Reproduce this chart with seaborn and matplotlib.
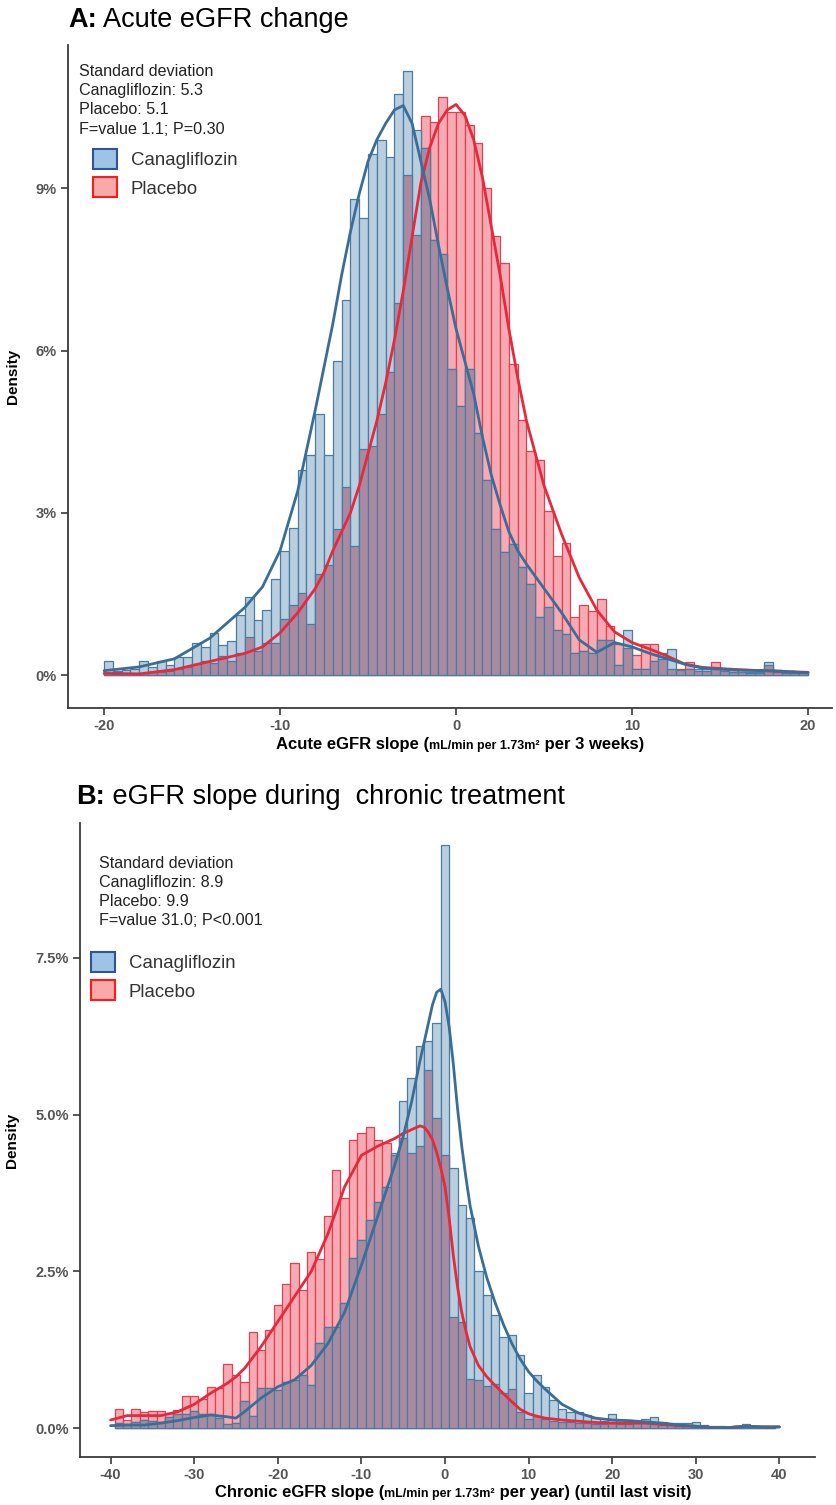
import numpy as np
import pandas as pd
import matplotlib
matplotlib.use("Agg")
import matplotlib.pyplot as plt
import seaborn as sns
from matplotlib.patches import Patch
from matplotlib.offsetbox import TextArea, HPacker, AnchoredOffsetbox
from matplotlib import font_manager as fm

# ---------------- Data ----------------
groups = ["Canagliflozin", "Placebo"]

# Panel A: acute eGFR change, 0.5-wide bins from -20 to 20 (density in %)
a_range = (-20, 20)
a_binwidth = 0.5
a_cana = [0.26, 0.08, 0.10, 0.12, 0.26, 0.15, 0.26, 0.18, 0.34, 0.34,
          0.60, 0.51, 0.77, 0.55, 0.62, 1.11, 1.45, 1.02, 1.20, 1.78,
          2.29, 2.71, 3.80, 4.06, 4.83, 4.06, 5.80, 6.93, 8.80, 8.45,
          9.64, 9.90, 9.58, 10.74, 11.16, 10.07, 9.75, 8.04, 7.79, 5.66,
          4.97, 5.66, 4.47, 3.60, 2.70, 2.27, 2.42, 2.00, 1.69, 1.08,
          1.26, 0.83, 0.76, 0.40, 0.45, 0.40, 0.65, 0.65, 0.18, 0.83,
          0.12, 0.12, 0.25, 0.40, 0.48, 0.09, 0.12, 0.12, 0.12, 0.12,
          0.12, 0.09, 0.06, 0.06, 0.06, 0.24, 0.09, 0.06, 0.06, 0.04]
a_plac = [0.04, 0.05, 0.04, 0.03, 0.03, 0.05, 0.06, 0.08, 0.12, 0.15,
          0.20, 0.25, 0.22, 0.35, 0.25, 0.40, 0.71, 0.45, 0.60, 0.59,
          1.03, 1.29, 1.52, 0.94, 1.87, 2.04, 2.70, 3.48, 2.38, 4.18,
          4.23, 4.83, 5.61, 6.87, 9.25, 8.14, 10.34, 10.22, 10.68, 10.42,
          10.42, 10.17, 9.84, 9.00, 8.11, 7.62, 5.75, 4.72, 4.15, 3.97,
          3.03, 2.20, 2.45, 1.08, 1.30, 1.19, 1.41, 0.90, 0.58, 0.50,
          0.37, 0.58, 0.58, 0.30, 0.12, 0.12, 0.24, 0.08, 0.08, 0.24,
          0.08, 0.06, 0.06, 0.04, 0.04, 0.19, 0.06, 0.04, 0.04, 0.03]
a_kde_x = [-20, -18, -16, -14, -12, -11, -10, -9,
           -8, -7.5, -7, -6.5, -6, -5.5, -5, -4.5, -4, -3.5,
           -3, -2.5, -2, -1.5, -1, -0.5, 0, 0.5, 1, 1.5,
           2, 2.5, 3, 3.5, 4, 5, 6, 7, 8, 9,
           10, 11, 12, 13, 14, 16, 18, 20]
a_kde_cana = [0.08, 0.15, 0.30, 0.68, 1.25, 1.63, 2.30, 3.40,
              4.90, 5.70, 6.50, 7.40, 8.20, 8.90, 9.50, 9.90, 10.20, 10.45,
              10.53, 10.20, 9.50, 8.80, 7.95, 7.15, 6.40, 5.80, 5.20, 4.40,
              3.70, 3.15, 2.65, 2.30, 2.05, 1.60, 1.15, 0.65, 0.42, 0.60,
              0.52, 0.40, 0.30, 0.20, 0.13, 0.09, 0.08, 0.04]
a_kde_plac = [0.03, 0.02, 0.10, 0.25, 0.40, 0.52, 0.78, 1.15,
              1.60, 1.90, 2.30, 2.65, 3.00, 3.50, 4.10, 4.70, 5.40, 6.20,
              7.10, 8.10, 9.10, 9.75, 10.20, 10.45, 10.55, 10.35, 9.90, 9.20,
              8.30, 7.40, 6.40, 5.50, 4.70, 3.50, 2.60, 1.80, 1.20, 0.80,
              0.60, 0.48, 0.35, 0.20, 0.14, 0.10, 0.07, 0.05]
a_stats = ["Standard deviation", "Canagliflozin: 5.3", "Placebo: 5.1", "F=value 1.1; P=0.30"]
a_xticks = [-20, -10, 0, 10, 20]
a_yticks = [0, 3, 6, 9]
a_yticklabels = ["0%", "3%", "6%", "9%"]

# Panel B: chronic eGFR slope, 1-wide bins centred on integers -39..39 (density in %)
b_range = (-39.5, 39.5)
b_binwidth = 1.0
b_cana = [0.08, 0.06, 0.10, 0.13, 0.12, 0.10, 0.17, 0.22, 0.22, 0.27,
          0.22, 0.22, 0.16, 0.06, 0.08, 0.44, 0.19, 0.64, 0.64, 0.61,
          0.74, 0.77, 0.85, 0.69, 1.35, 1.62, 1.62, 2.00, 2.71, 3.00,
          3.32, 3.60, 3.85, 4.39, 5.21, 5.58, 6.09, 6.17, 6.46, 9.30,
          4.15, 3.56, 3.35, 2.50, 2.13, 1.80, 1.46, 1.48, 1.16, 0.56,
          0.85, 0.65, 0.45, 0.30, 0.25, 0.26, 0.21, 0.16, 0.12, 0.23,
          0.13, 0.13, 0.10, 0.14, 0.17, 0.10, 0.09, 0.08, 0.09, 0.10,
          0.05, 0.03, 0.03, 0.02, 0.03, 0.07, 0.04, 0.03, 0.02]
b_plac = [0.31, 0.13, 0.31, 0.25, 0.27, 0.27, 0.24, 0.29, 0.52, 0.52,
          0.46, 0.65, 0.64, 1.02, 0.85, 0.74, 1.53, 1.25, 1.57, 1.96,
          2.30, 2.64, 2.21, 2.81, 2.70, 3.39, 4.12, 3.67, 4.60, 4.70,
          4.81, 4.60, 4.55, 4.35, 4.62, 4.39, 4.50, 5.71, 4.94, 4.36,
          1.78, 1.70, 0.78, 0.76, 0.68, 0.70, 0.56, 0.62, 0.26, 0.14,
          0.19, 0.15, 0.12, 0.10, 0.10, 0.08, 0.09, 0.07, 0.06, 0.08,
          0.07, 0.06, 0.08, 0.09, 0.07, 0.05, 0.06, 0.04, 0.03, 0.02,
          0.02, 0.01, 0.01, 0.01, 0.03, 0.05, 0.04, 0.02, 0.02]
b_kde_x = [-40, -38, -36, -34, -32, -30, -28, -26, -25, -24,
           -22, -20, -18, -16, -14, -12, -10, -8, -6, -5,
           -4, -3, -2.5, -2, -1.5, -1, -0.5, 0, 0.5, 1,
           1.5, 2, 2.5, 3, 4, 5, 6, 7, 8, 9,
           10, 11, 12, 14, 16, 18, 20, 22, 24, 26,
           28, 30, 32, 34, 36, 38, 40]
b_kde_cana = [0.04, 0.05, 0.05, 0.08, 0.12, 0.17, 0.21, 0.18, 0.16, 0.26,
              0.48, 0.66, 0.77, 1.00, 1.35, 1.85, 2.60, 3.40, 4.20, 4.65,
              5.20, 5.85, 6.15, 6.45, 6.75, 6.95, 7.00, 6.80, 6.40, 5.80,
              5.10, 4.50, 4.00, 3.55, 2.90, 2.40, 2.00, 1.65, 1.35, 1.10,
              0.90, 0.75, 0.62, 0.38, 0.24, 0.16, 0.13, 0.12, 0.10, 0.08,
              0.05, 0.03, 0.01, 0.01, 0.03, 0.02, 0.02]
b_kde_plac = [0.13, 0.20, 0.20, 0.20, 0.26, 0.38, 0.56, 0.72, 0.82, 0.95,
              1.30, 1.70, 2.10, 2.50, 3.10, 3.85, 4.35, 4.50, 4.62, 4.70,
              4.76, 4.82, 4.80, 4.72, 4.60, 4.40, 4.15, 3.85, 3.35, 2.75,
              2.25, 1.85, 1.55, 1.30, 1.00, 0.82, 0.68, 0.55, 0.42, 0.30,
              0.23, 0.19, 0.16, 0.13, 0.11, 0.09, 0.08, 0.08, 0.08, 0.06,
              0.04, 0.03, 0.01, 0.01, 0.03, 0.02, 0.02]
b_stats = ["Standard deviation", "Canagliflozin: 8.9", "Placebo: 9.9", "F=value 31.0; P<0.001"]
b_xticks = [-40, -30, -20, -10, 0, 10, 20, 30, 40]
b_yticks = [0, 2.5, 5.0, 7.5]
b_yticklabels = ["0.0%", "2.5%", "5.0%", "7.5%"]

# ---------------- Style ----------------
W, H, DPI = 836, 1505, 100
BLUE_FILL = "#b9cedf"
BLUE_EDGE = "#4a7ba3"
RED_FILL = "#f6abb4"
RED_EDGE = "#e2404f"
MIX_FILL = "#a98aa0"
BLUE_LINE = "#3a6e97"
RED_LINE = "#e8283c"
LEG_BLUE_FILL, LEG_BLUE_EDGE = "#9dc3e6", "#2f5597"
LEG_RED_FILL, LEG_RED_EDGE = "#f8aaaa", "#ff1a1a"
AXIS = "#3a3a3a"
TICKLAB = "#555555"

sns.set_style("ticks")
plt.rcParams["font.family"] = ["Liberation Sans", "DejaVu Sans"]


def has_font(name):
    try:
        fm.findfont(fm.FontProperties(family=name), fallback_to_default=False)
        return True
    except Exception:
        return False


NARROW = "Liberation Sans Narrow" if has_font("Liberation Sans Narrow") else "Liberation Sans"


def fx(px):
    return px / W


def fy(py):
    return 1 - py / H


fig = plt.figure(figsize=(W / DPI, H / DPI), dpi=DPI)
fig.patch.set_facecolor("white")


def add_axes(left, right, top, bottom):
    return fig.add_axes([fx(left), fy(bottom), (right - left) / W, (bottom - top) / H])


def draw_panel(ax, rng, bw, cana, plac, kx, kc, kp):
    edges = np.arange(rng[0], rng[1] + bw / 2, bw)
    centers = edges[:-1] + bw / 2
    cana = np.asarray(cana, dtype=float)
    plac = np.asarray(plac, dtype=float)
    df = pd.DataFrame({"x": centers, "cana": cana, "plac": plac,
                       "both": np.minimum(cana, plac)})
    common = dict(data=df, x="x", bins=[float(e) for e in edges], stat="count", ax=ax,
                  alpha=1, linewidth=0.9)
    sns.histplot(weights="plac", facecolor=RED_FILL, edgecolor=RED_EDGE, **common)
    sns.histplot(weights="cana", facecolor=BLUE_FILL, edgecolor=BLUE_EDGE, **common)
    sns.histplot(weights="both", facecolor=MIX_FILL, edgecolor=BLUE_EDGE, **common)
    kd = pd.DataFrame({"x": kx, "cana": kc, "plac": kp})
    sns.lineplot(data=kd, x="x", y="plac", color=RED_LINE, linewidth=2.0, ax=ax)
    sns.lineplot(data=kd, x="x", y="cana", color=BLUE_LINE, linewidth=2.0, ax=ax)


def style_axes(ax, xticks, yticks, yticklabels, xlim, ylim, ylab_x):
    ax.set_xlim(*xlim)
    ax.set_ylim(*ylim)
    ax.set_xticks(xticks)
    ax.set_xticklabels([str(t) for t in xticks])
    ax.set_yticks(yticks)
    ax.set_yticklabels(yticklabels)
    for s in ["top", "right"]:
        ax.spines[s].set_visible(False)
    for s in ["left", "bottom"]:
        ax.spines[s].set_color(AXIS)
        ax.spines[s].set_linewidth(1.3)
    ax.tick_params(direction="out", length=5, width=1.2, color=AXIS,
                   labelcolor=TICKLAB, labelsize=10.5, pad=3)
    for lab in ax.get_xticklabels() + ax.get_yticklabels():
        lab.set_fontfamily([NARROW, "DejaVu Sans"])
        lab.set_fontweight("bold")
    ax.set_xlabel("")
    ax.set_ylabel("Density", fontsize=11, fontweight="bold", color="black")
    ax.yaxis.set_label_coords(ylab_x, 0.5)
    ax.set_facecolor("white")


def mixed_text(parts, x_px, y_px, loc):
    boxes = [TextArea(t, textprops=dict(fontsize=s, fontweight=w, fontfamily=[f, "DejaVu Sans"], color=c))
             for (t, s, w, f, c) in parts]
    pack = HPacker(children=boxes, align="baseline", pad=0, sep=0)
    ab = AnchoredOffsetbox(loc=loc, child=pack, pad=0, borderpad=0, frameon=False,
                           bbox_to_anchor=(fx(x_px), fy(y_px)), bbox_transform=fig.transFigure)
    fig.add_artist(ab)


def add_legend(ax, x_px, y_px):
    handles = [Patch(facecolor=LEG_BLUE_FILL, edgecolor=LEG_BLUE_EDGE, linewidth=1.5, label=groups[0]),
               Patch(facecolor=LEG_RED_FILL, edgecolor=LEG_RED_EDGE, linewidth=1.5, label=groups[1])]
    ax.legend(handles=handles, loc="upper left", bbox_to_anchor=(fx(x_px), fy(y_px)),
              bbox_transform=fig.transFigure, frameon=False, fontsize=13.4,
              handlelength=1.29, handleheight=1.29, handletextpad=0.75, labelspacing=0.43,
              borderpad=0, borderaxespad=0, labelcolor="#333333")


def add_stats(lines, x_px, y0_px, step):
    for i, line in enumerate(lines):
        fig.text(fx(x_px), fy(y0_px + step * i), line, fontsize=11.6, ha="left", va="center",
                 color="#222222")


# ---------------- Panel A ----------------
axA = add_axes(68, 832, 45, 708)
draw_panel(axA, a_range, a_binwidth, a_cana, a_plac, a_kde_x, a_kde_cana, a_kde_plac)
style_axes(axA, a_xticks, a_yticks, a_yticklabels, (-22.05, 21.36), (-0.61, 11.65), -0.063)
add_legend(axA, 93, 149)
add_stats(a_stats, 79, 72, 19)
mixed_text([("A:", 19.5, "bold", "Liberation Sans", "black"),
            (" Acute eGFR change", 19.5, "normal", "Liberation Sans", "black")], 68, 20, "center left")
mixed_text([("Acute eGFR slope (", 12, "bold", NARROW, "black"),
            ("mL/min per 1.73m\u00b2", 9, "bold", NARROW, "black"),
            (" per 3 weeks)", 12, "bold", NARROW, "black")], 460, 745, "center")

# ---------------- Panel B ----------------
axB = add_axes(80, 815, 823, 1457)
draw_panel(axB, b_range, b_binwidth, b_cana, b_plac, b_kde_x, b_kde_cana, b_kde_plac)
style_axes(axB, b_xticks, b_yticks, b_yticklabels, (-43.66, 44.26), (-0.46, 9.65), -0.083)
add_legend(axB, 91, 952)
add_stats(b_stats, 99, 863, 19.3)
mixed_text([("B:", 19.5, "bold", "Liberation Sans", "black"),
            (" eGFR slope during  chronic treatment", 19.5, "normal", "Liberation Sans", "black")],
           76, 797, "center left")
mixed_text([("Chronic eGFR slope (", 12, "bold", NARROW, "black"),
            ("mL/min per 1.73m\u00b2", 9, "bold", NARROW, "black"),
            (" per year) (until last visit)", 12, "bold", NARROW, "black")], 453, 1493, "center")

fig.savefig("out.png", dpi=DPI, facecolor="white")
